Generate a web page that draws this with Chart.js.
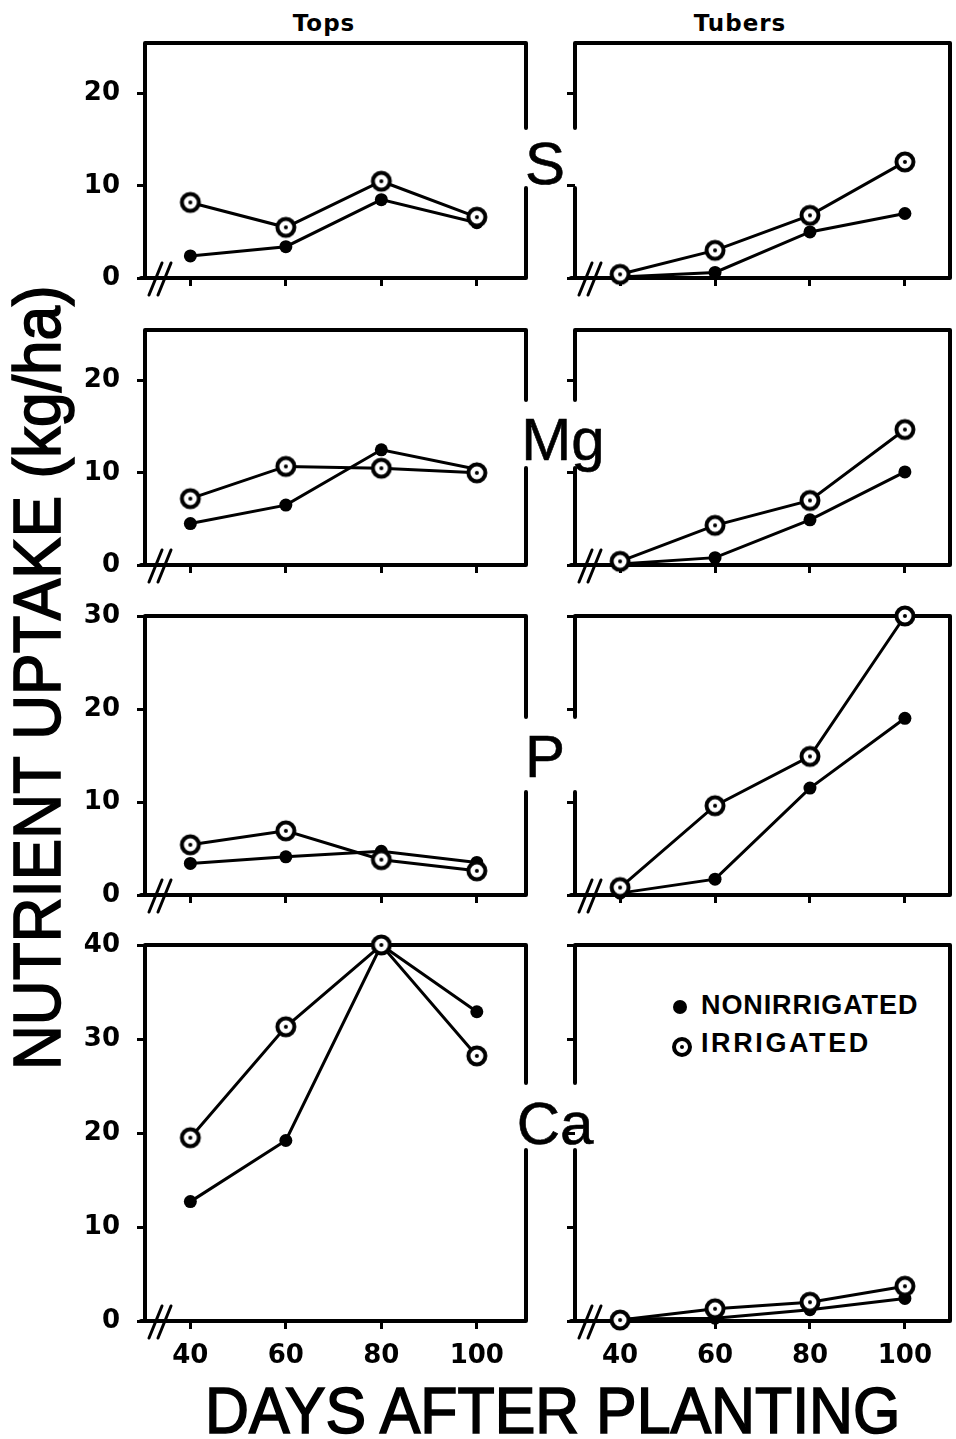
<!DOCTYPE html>
<html>
<head>
<meta charset="utf-8">
<title>Nutrient uptake</title>
<script src="https://cdn.jsdelivr.net/npm/chart.js@4.4.0/dist/chart.umd.min.js"></script>
<style>
body { margin: 0; background: #fff; }
#page { position: relative; width: 956px; height: 1439px; overflow: hidden; background: #fff; color: #000; font-family: 'Liberation Sans', Arial, sans-serif; }
#page canvas { position: absolute; }
.txt { position: absolute; white-space: nowrap; line-height: 1; }
.colTitle { font-family: 'DejaVu Sans'; font-weight: bold; font-size: 23px; letter-spacing: 1px; transform: translateX(-50%); }
.elem { font-size: 60px; transform: translateX(-50%); -webkit-text-stroke: 0.6px #000; }
.bigTitle { -webkit-text-stroke: 1.6px #000; }
.legend { font-weight: bold; font-size: 27px; }
.dot { position: absolute; width: 14px; height: 14px; border-radius: 50%; background: #000; }
.ring { position: absolute; width: 12px; height: 12px; border-radius: 50%; border: 4px solid #000; background: #fff; }
.ring::after { content: ''; position: absolute; left: 4px; top: 4px; width: 4px; height: 4px; border-radius: 50%; background: #000; }
</style>
</head>
<body>
<div id="page">
  <div class="txt colTitle" style="left:324px; top:12px;">Tops</div>
  <div class="txt colTitle" style="left:740px; top:12px;">Tubers</div>

  <div class="txt elem" style="left:545px; top:134px;">S</div>
  <div class="txt elem" style="left:563px; top:410px;">Mg</div>
  <div class="txt elem" style="left:545px; top:727px;">P</div>
  <div class="txt elem" style="left:555px; top:1094px;">Ca</div>

  <div class="dot" style="left:673px; top:1000px;"></div>
  <div class="txt legend" style="left:701px; top:992px; letter-spacing:0.9px;">NONIRRIGATED</div>
  <div class="ring" style="left:672px; top:1037px;"></div>
  <div class="txt legend" style="left:701px; top:1030px; letter-spacing:2.6px;">IRRIGATED</div>

  <div id="yTitle" class="txt bigTitle" style="font-size:66px;">NUTRIENT UPTAKE (kg/ha)</div>
  <div id="xTitle" class="txt bigTitle" style="font-size:64px;">DAYS AFTER PLANTING</div>
</div>

<script>
// days after planting
const days = [40, 60, 80, 100];

// S (kg/ha)
const sTopsNon = [2.4, 3.4, 8.5, 6.0];
const sTopsIrr = [8.2, 5.5, 10.5, 6.6];
const sTubNon = [0.1, 0.6, 5.0, 7.0];
const sTubIrr = [0.4, 3.0, 6.8, 12.6];

// Mg
const mgTopsNon = [4.5, 6.5, 12.5, 10.4];
const mgTopsIrr = [7.2, 10.7, 10.5, 10.0];
const mgTubNon = [0.1, 0.8, 4.9, 10.1];
const mgTubIrr = [0.4, 4.3, 7.0, 14.7];

// P
const pTopsNon = [3.4, 4.1, 4.7, 3.5];
const pTopsIrr = [5.4, 6.9, 3.8, 2.6];
const pTubNon = [0.2, 1.7, 11.5, 19.0];
const pTubIrr = [0.8, 9.6, 14.9, 30.0];

// Ca
const caTopsNon = [12.7, 19.2, 40.0, 32.9];
const caTopsIrr = [19.5, 31.3, 40.0, 28.2];
const caTubNon = [0.2, 0.3, 1.2, 2.4];
const caTubIrr = [0.1, 1.3, 2.0, 3.7];

// tick labels
const yTicks2 = [0, 10, 20];
const yTicks3 = [0, 10, 20, 30];
const yTicks4 = [0, 10, 20, 30, 40];

// layout of the four rows (page pixels)
const rows = [
    { top: 43, bottom: 278, yMax: 25.5, ticks: yTicks2, gap: [128, 188], tops: [sTopsNon, sTopsIrr], tubers: [sTubNon, sTubIrr] },
    { top: 330, bottom: 565, yMax: 25.5, ticks: yTicks2, gap: [400, 468], tops: [mgTopsNon, mgTopsIrr], tubers: [mgTubNon, mgTubIrr] },
    { top: 616, bottom: 895, yMax: 30, ticks: yTicks3, gap: [717, 792], tops: [pTopsNon, pTopsIrr], tubers: [pTubNon, pTubIrr] },
    { top: 945, bottom: 1321, yMax: 40, ticks: yTicks4, gap: [1083, 1150], tops: [caTopsNon, caTopsIrr], tubers: [caTubNon, caTubIrr] }
];

// right column canvas runs a little past the page edge on purpose
const cols = [
    { x: 45, w: 505, axisW: 100, padRight: 24, xMin: 30.5, xMax: 110.3, gapSide: 'right', labels: true },
    { x: 535, w: 428, axisW: 40, padRight: 6, xMin: 30.5, xMax: 109.5, gapSide: 'left', labels: false }
];

const PAD_TOP = 15;
const X_AXIS_H = 50;

// irrigated marker: open circle with a dot in the middle
function makeRing() {
    let c = document.createElement('canvas');
    c.width = 24;
    c.height = 24;
    let g = c.getContext('2d');
    g.beginPath();
    g.arc(12, 12, 8.5, 0, Math.PI * 2);
    g.fillStyle = '#fff';
    g.fill();
    g.lineWidth = 4;
    g.strokeStyle = '#000';
    g.stroke();
    g.beginPath();
    g.arc(12, 12, 2, 0, Math.PI * 2);
    g.fillStyle = '#000';
    g.fill();
    return c;
}
const ringImg = makeRing();

// box with an opening on one side for the element name, plus the // break
const framePlugin = {
    id: 'frame',
    beforeDatasetsDraw(chart, args, opts) {
        const ctx = chart.ctx;
        const a = chart.chartArea;
        const g1 = opts.gap[0] - opts.offsetY;
        const g2 = opts.gap[1] - opts.offsetY;
        ctx.save();
        ctx.strokeStyle = '#000';
        ctx.lineWidth = 4;
        ctx.lineCap = 'round';
        ctx.beginPath();
        ctx.moveTo(a.left, a.top);
        ctx.lineTo(a.right, a.top);
        ctx.moveTo(a.left - 4, a.bottom);
        ctx.lineTo(a.right, a.bottom);
        if (opts.side === 'right') {
            ctx.moveTo(a.left, a.top);
            ctx.lineTo(a.left, a.bottom);
            ctx.moveTo(a.right, a.top);
            ctx.lineTo(a.right, g1);
            ctx.moveTo(a.right, g2);
            ctx.lineTo(a.right, a.bottom);
        } else {
            ctx.moveTo(a.right, a.top);
            ctx.lineTo(a.right, a.bottom);
            ctx.moveTo(a.left, a.top);
            ctx.lineTo(a.left, g1);
            ctx.moveTo(a.left, g2);
            ctx.lineTo(a.left, a.bottom);
        }
        ctx.stroke();

        // axis break
        ctx.lineWidth = 3;
        ctx.beginPath();
        ctx.moveTo(a.left + 4, a.bottom + 17);
        ctx.lineTo(a.left + 17, a.bottom - 15);
        ctx.moveTo(a.left + 13, a.bottom + 17);
        ctx.lineTo(a.left + 26, a.bottom - 15);
        ctx.stroke();
        ctx.restore();
    }
};

function toPoints(values) {
    return days.map((d, i) => ({ x: d, y: values[i] }));
}

function makePanel(row, col, series, isBottom) {
    let canvas = document.createElement('canvas');
    let top = row.top - PAD_TOP;
    canvas.width = col.w;
    canvas.height = row.bottom - row.top + PAD_TOP + X_AXIS_H;
    canvas.style.left = col.x + 'px';
    canvas.style.top = top + 'px';
    document.getElementById('page').appendChild(canvas);

    const tickFont = { family: 'DejaVu Sans', weight: 'bold', size: 26 };

    let chart = new Chart(canvas, {
        type: 'line',
        data: {
            datasets: [
                {
                    label: 'IRRIGATED',
                    data: toPoints(series[1]),
                    borderColor: '#000',
                    borderWidth: 3,
                    pointStyle: ringImg,
                    pointRadius: 10,
                    clip: false
                },
                {
                    label: 'NONIRRIGATED',
                    data: toPoints(series[0]),
                    borderColor: '#000',
                    borderWidth: 3,
                    pointStyle: 'circle',
                    pointRadius: 6.5,
                    pointBorderWidth: 0,
                    pointBackgroundColor: '#000',
                    clip: false
                }
            ]
        },
        options: {
            responsive: false,
            animation: false,
            events: [],
            layout: { padding: { top: PAD_TOP, right: col.padRight, left: 0, bottom: 0 } },
            plugins: {
                legend: { display: false },
                tooltip: { enabled: false },
                frame: { side: col.gapSide, gap: row.gap, offsetY: top }
            },
            scales: {
                x: {
                    type: 'linear',
                    min: col.xMin,
                    max: col.xMax,
                    afterBuildTicks: s => { s.ticks = days.map(v => ({ value: v })); },
                    afterFit: s => {
                        s.height = X_AXIS_H;
                        s.paddingLeft = 0;
                        s.paddingRight = 0;
                    },
                    border: { display: false },
                    grid: { drawOnChartArea: false, drawTicks: true, tickLength: 8, color: '#000', lineWidth: 3 },
                    ticks: {
                        color: '#000',
                        font: tickFont,
                        padding: 12,
                        maxRotation: 0,
                        callback: v => isBottom ? v : ''
                    }
                },
                y: {
                    min: 0,
                    max: row.yMax,
                    afterBuildTicks: s => { s.ticks = row.ticks.map(v => ({ value: v })); },
                    afterFit: s => {
                        s.width = col.axisW;
                        s.paddingTop = 0;
                        s.paddingBottom = 0;
                    },
                    border: { display: false },
                    grid: { drawOnChartArea: false, drawTicks: true, tickLength: 8, color: '#000', lineWidth: 3 },
                    ticks: {
                        color: '#000',
                        font: tickFont,
                        padding: 17,
                        callback: v => col.labels ? v : ''
                    }
                }
            }
        },
        plugins: [framePlugin]
    });
    return chart;
}

rows.forEach((row, i) => {
    let isBottom = i === rows.length - 1;
    makePanel(row, cols[0], row.tops, isBottom);
    makePanel(row, cols[1], row.tubers, isBottom);
});

// stretch the big axis titles to the length they have in the figure
function fitTitles() {
    let yt = document.getElementById('yTitle');
    let ys = 785 / yt.offsetWidth;
    let yF = 66;
    yt.style.left = (60 - 0.8465 * yF) + 'px';
    yt.style.top = '1070px';
    yt.style.transformOrigin = '0 0';
    yt.style.transform = 'rotate(-90deg) scaleX(' + ys + ')';

    let xt = document.getElementById('xTitle');
    let xs = 695 / xt.offsetWidth;
    let xF = 64;
    xt.style.left = '205px';
    xt.style.top = (1433 - 0.8465 * xF) + 'px';
    xt.style.transformOrigin = '0 0';
    xt.style.transform = 'scaleX(' + xs + ')';
}
fitTitles();
</script>
</body>
</html>
